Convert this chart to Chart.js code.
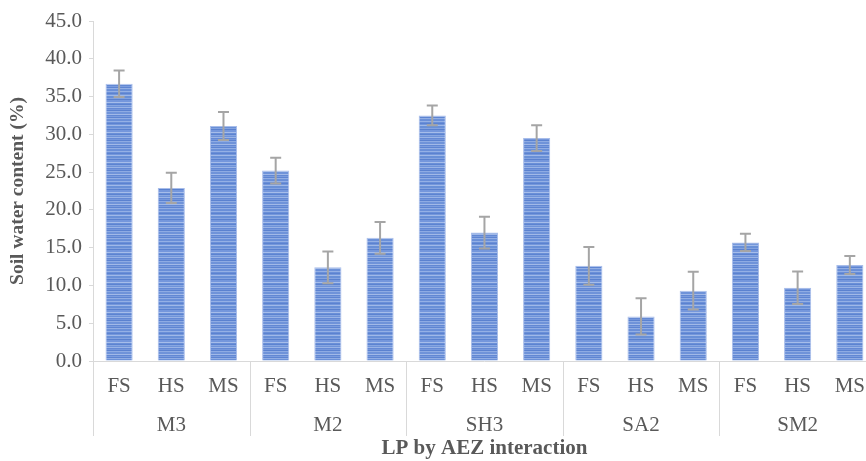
<!DOCTYPE html>
<html>
<head>
<meta charset="utf-8">
<script src="https://cdn.jsdelivr.net/npm/chart.js@4/dist/chart.umd.min.js"></script>
<style>
  html, body { margin: 0; padding: 0; background: #ffffff; overflow: hidden; }
  #wrap { width: 878px; height: 461px; position: relative; }
</style>
</head>
<body>
<div id="wrap"><canvas id="c" width="878" height="461"></canvas></div>
<script>
// ---- data ----
const groups = ['M3', 'M2', 'SH3', 'SA2', 'SM2'];
const treatments = ['FS', 'HS', 'MS'];
const soilWater = [36.7, 22.9, 31.1, 25.2, 12.4, 16.3, 32.5, 17.0, 29.5, 12.6, 5.9, 9.3, 15.7, 9.7, 12.7];
const errors = [1.75, 2.0, 1.85, 1.7, 2.1, 2.1, 1.3, 2.1, 1.7, 2.5, 2.4, 2.5, 1.15, 2.15, 1.2];
const yMin = 0, yMax = 45, yStep = 5;
const xTitle = 'LP by AEZ interaction';
const yTitle = 'Soil water content (%)';

const categories = [];
groups.forEach(g => treatments.forEach(t => categories.push(t)));

// ---- striped bar fill ----
function makePattern() {
  const pc = document.createElement('canvas');
  const seq = ['#6a8fd8','#94b0e5','#6a8fd8','#5b82d0','#7497db','#a0b9e8','#6990d7','#6990d7','#84a3e0','#5a81cf',
               '#7597dc','#7597dc','#a6bdea','#6a8fd7','#5c83d1','#87a6e1','#6f93d9','#9ab4e6','#6589d4','#7597db',
               '#5b82d0','#8eabe3','#6f93d9','#6f93d9','#a1b9e8','#6288d3','#7b9cde','#5e85d2','#92aee4','#6c91d8'];
  pc.width = 4; pc.height = seq.length;
  const pctx = pc.getContext('2d');
  seq.forEach((c, i) => { pctx.fillStyle = c; pctx.fillRect(0, i, 4, 1); });
  return document.getElementById('c').getContext('2d').createPattern(pc, 'repeat');
}

const FONT = "'Liberation Serif', 'Times New Roman', serif";
const TEXT = '#595959';
const LINE = '#d9d9d9';

const errorBars = {
  id: 'errorBars',
  afterDatasetsDraw(chart) {
    const ctx = chart.ctx;
    const y = chart.scales.y;
    const meta = chart.getDatasetMeta(0);
    ctx.save();
    ctx.strokeStyle = '#a5a5a5';
    ctx.lineWidth = 2;
    meta.data.forEach((bar, i) => {
      const x = bar.x;
      const yt = y.getPixelForValue(soilWater[i] + errors[i]);
      const yb = y.getPixelForValue(soilWater[i] - errors[i]);
      ctx.beginPath();
      ctx.moveTo(x, yt); ctx.lineTo(x, yb);
      ctx.moveTo(x - 5.5, yt); ctx.lineTo(x + 5.5, yt);
      ctx.moveTo(x - 5.5, yb); ctx.lineTo(x + 5.5, yb);
      ctx.stroke();
    });
    ctx.restore();
  }
};

const groupLabels = {
  id: 'groupLabels',
  afterDraw(chart) {
    const ctx = chart.ctx;
    const xs = chart.scales.x;
    const area = chart.chartArea;
    const n = categories.length;
    const cw = (area.right - area.left) / n;
    ctx.save();
    ctx.strokeStyle = LINE;
    ctx.lineWidth = 1;
    ctx.fillStyle = TEXT;
    ctx.font = "21px " + FONT;
    ctx.textAlign = 'center';
    ctx.textBaseline = 'alphabetic';
    groups.forEach((g, gi) => {
      const first = gi * treatments.length;
      const last = first + treatments.length - 1;
      const left = xs.getPixelForValue(first) - cw / 2;
      const right = xs.getPixelForValue(last) + cw / 2;
      const lx = Math.round(left) + 0.5;
      ctx.beginPath();
      ctx.moveTo(lx, area.bottom);
      ctx.lineTo(lx, area.bottom + 75);
      ctx.stroke();
      ctx.fillText(g, (left + right) / 2, area.bottom + 70);
    });
    ctx.restore();
  }
};

new Chart(document.getElementById('c'), {
  type: 'bar',
  data: {
    labels: categories,
    datasets: [{
      data: soilWater,
      backgroundColor: makePattern(),
      borderColor: '#a8bdea',
      borderWidth: 1,
      barPercentage: 0.52,
      categoryPercentage: 1.0
    }]
  },
  options: {
    responsive: false,
    animation: false,
    devicePixelRatio: 1,
    layout: { padding: { top: 21, left: 0, right: 0, bottom: 0 } },
    plugins: { legend: { display: false }, tooltip: { enabled: false } },
    scales: {
      x: {
        grid: { drawOnChartArea: false, drawTicks: false },
        border: { display: true, color: LINE, width: 1 },
        ticks: { color: TEXT, font: { family: FONT, size: 21 }, padding: 13, maxRotation: 0, autoSkip: false },
        title: { display: true, text: xTitle, color: TEXT, font: { family: FONT, size: 21, weight: 'bold', lineHeight: 1.143 }, padding: { top: 0, bottom: 0 } },
        afterFit(s) { s.height = 100; }
      },
      y: {
        min: yMin, max: yMax,
        grid: { drawOnChartArea: false, drawTicks: true, tickLength: 4, color: LINE },
        border: { display: true, color: LINE, width: 1 },
        ticks: { stepSize: yStep, color: TEXT, font: { family: FONT, size: 21 }, padding: 7,
                 callback: v => Number(v).toFixed(1) },
        title: { display: true, text: yTitle, color: TEXT, font: { family: FONT, size: 19.5, weight: 'bold', lineHeight: 1.2 }, padding: { top: 6, bottom: 0 } },
        afterFit(s) { s.width = 93; }
      }
    }
  },
  plugins: [errorBars, groupLabels]
});
</script>
</body>
</html>
